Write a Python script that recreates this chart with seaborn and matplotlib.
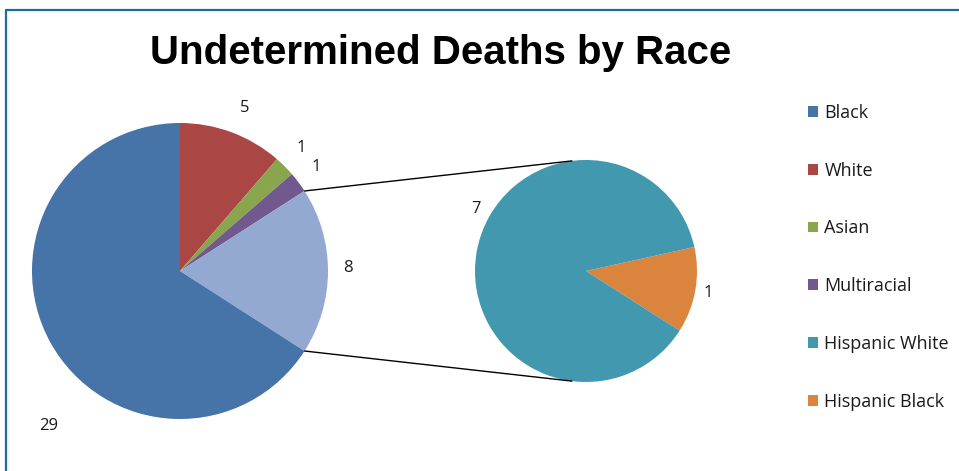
import numpy as np
import seaborn as sns
import matplotlib.pyplot as plt
from matplotlib.patches import Patch, ConnectionPatch
from matplotlib.lines import Line2D

# Data
main_labels = ["White", "Asian", "Multiracial", "Other", "Black"]
main_values = [5, 1, 1, 8, 29]
main_colors = ["#AA4643", "#89A54E", "#71588F", "#94A9D1", "#4673A8"]

sub_labels = ["Hispanic Black", "Hispanic White"]
sub_values = [1, 7]
sub_colors = ["#DB843D", "#4198AF"]

legend_labels = ["Black", "White", "Asian", "Multiracial", "Hispanic White", "Hispanic Black"]
legend_colors = ["#4673A8", "#AA4643", "#89A54E", "#71588F", "#4198AF", "#DB843D"]

# label placement (in pie radius units), Excel-style "outside end"
main_label_pos = [(0.44, 1.10), (0.82, 0.83), (0.92, 0.70), (1.135, 0.02), (-0.89, -1.05)]
sub_label_pos = [(1.10, -0.20), (-0.99, 0.56)]

sns.set_theme(style="white")
plt.rcParams['font.family'] = ['Open Sans', 'DejaVu Sans']

fig = plt.figure(figsize=(9.59, 4.71), dpi=100)
W, H = 959, 471

def pie_axes(cx, cy, r):
    ax = fig.add_axes([(cx - r) / W, (H - cy - r) / H, 2 * r / W, 2 * r / H])
    return ax

label_style = dict(fontsize=12, color="#1a1a1a")

ax1 = pie_axes(180, 271, 148)
wedges1, texts1 = ax1.pie(main_values, colors=main_colors, startangle=90, counterclock=False,
                          labels=[str(v) for v in main_values], radius=1, frame=True,
                          wedgeprops=dict(linewidth=0), textprops=label_style)
ax1.set_xlim(-1, 1); ax1.set_ylim(-1, 1); ax1.axis('off')
for t, p in zip(texts1, main_label_pos):
    t.set_position(p)
    t.set_ha('center'); t.set_va('center')

ax2 = pie_axes(586, 271, 111)
wedges2, texts2 = ax2.pie(sub_values, colors=sub_colors, startangle=12.5, counterclock=False,
                          labels=[str(v) for v in sub_values], radius=1, frame=True,
                          wedgeprops=dict(linewidth=0), textprops=label_style)
ax2.set_xlim(-1, 1); ax2.set_ylim(-1, 1); ax2.axis('off')
for t, p in zip(texts2, sub_label_pos):
    t.set_position(p)
    t.set_ha('center'); t.set_va('center')

# connector lines from the "Other" slice to the secondary pie
other = wedges1[main_labels.index("Other")]
for ang_main, ang_sub in [(other.theta2, 97.3), (other.theta1, 262.7)]:
    p1 = (np.cos(np.radians(ang_main)), np.sin(np.radians(ang_main)))
    p2 = (np.cos(np.radians(ang_sub)), np.sin(np.radians(ang_sub)))
    con = ConnectionPatch(xyA=p1, coordsA=ax1.transData, xyB=p2, coordsB=ax2.transData,
                          color="black", linewidth=1.0)
    fig.add_artist(con)

fig.text(441 / W, 1 - 53 / H, "Undetermined Deaths by Race", ha='center', va='center',
         fontsize=29, fontweight='bold', color='black', family=['Liberation Sans', 'DejaVu Sans'])

handles = [Patch(facecolor=c, edgecolor='none', linewidth=0) for c in legend_colors]
leg = fig.legend(handles, legend_labels, loc='upper left', bbox_to_anchor=(808 / W, 1 - 104 / H),
                 frameon=False, fontsize=13, handlelength=0.55, handleheight=0.55,
                 handletextpad=0.35, labelspacing=2.2, borderaxespad=0, borderpad=0)
for t in leg.get_texts():
    t.set_color("#1a1a1a")

# blue frame on top and left edge
fig.add_artist(Line2D([5.5 / W, 1], [1 - 9.5 / H, 1 - 9.5 / H], color="#1F6AA0", linewidth=1.6))
fig.add_artist(Line2D([5.5 / W, 5.5 / W], [0, 1 - 9.5 / H], color="#1F6AA0", linewidth=1.6))

fig.savefig("out.png", dpi=100)
